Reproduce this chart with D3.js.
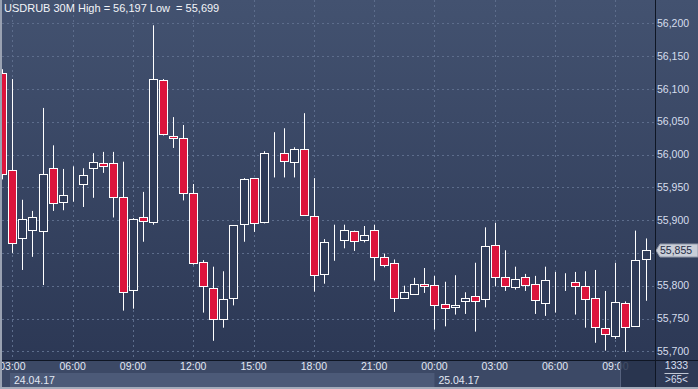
<!DOCTYPE html>
<html>
<head>
<meta charset="utf-8">
<script src="https://cdn.jsdelivr.net/npm/d3@7"></script>
<style>
  body { margin: 0; background: #2e3a56; }
  svg { display: block; font-family: "Liberation Sans", Arial, sans-serif; }
</style>
</head>
<body>
<svg id="chart" width="698" height="389"></svg>
<script>
// 30 minute bars, USDRUB, 24.04.17 02:30 .. 25.04.17 10:30
const symbol = "USDRUB 30M";
const startTime = new Date(2017, 3, 24, 2, 30);
const barMinutes = 30;

const opens = [
  56.124, 55.976, 55.872, 55.885, 55.883, 55.979, 55.927, 55.936, 55.955, 55.980,
  55.987, 55.987, 55.935, 55.794, 55.904, 55.897, 56.113, 56.028, 56.025, 55.941,
  55.836, 55.796, 55.750, 55.781, 55.894, 55.964, 55.897, 56.003, 56.002, 55.988,
  56.009, 55.907, 55.818, 55.869, 55.870, 55.883, 55.869, 55.885, 55.844, 55.834,
  55.782, 55.788, 55.802, 55.801, 55.772, 55.767, 55.776, 55.784, 55.779, 55.862,
  55.814, 55.798, 55.813, 55.802, 55.773, 55.805, 55.802, 55.805, 55.799, 55.781,
  55.735, 55.724, 55.773, 55.739, 55.840
];
const highs = [
  56.130, 56.115, 55.931, 55.914, 56.071, 56.014, 55.978, 55.982, 55.979, 56.002,
  56.004, 56.004, 55.989, 55.903, 55.943, 56.197, 56.115, 56.057, 56.045, 55.955,
  55.839, 55.829, 55.822, 55.892, 55.964, 55.964, 56.005, 56.034, 56.040, 56.011,
  56.063, 55.964, 55.871, 55.893, 55.893, 55.884, 55.891, 55.893, 55.849, 55.840,
  55.800, 55.812, 55.827, 55.815, 55.806, 55.816, 55.790, 55.835, 55.889, 55.896,
  55.854, 55.829, 55.818, 55.815, 55.829, 55.821, 55.819, 55.821, 55.822, 55.824,
  55.792, 55.835, 55.776, 55.884, 55.872
];
const lows = [
  55.962, 55.850, 55.824, 55.844, 55.801, 55.914, 55.915, 55.928, 55.920, 55.934,
  55.972, 55.904, 55.762, 55.765, 55.867, 55.893, 56.029, 56.010, 55.930, 55.832,
  55.759, 55.716, 55.736, 55.770, 55.867, 55.882, 55.895, 55.965, 55.965, 55.965,
  55.907, 55.791, 55.803, 55.838, 55.857, 55.853, 55.866, 55.808, 55.828, 55.760,
  55.780, 55.786, 55.789, 55.733, 55.738, 55.756, 55.757, 55.730, 55.767, 55.799,
  55.792, 55.794, 55.792, 55.757, 55.754, 55.759, 55.792, 55.756, 55.736, 55.713,
  55.701, 55.719, 55.699, 55.739, 55.777
];
const closes = [
  55.970, 55.865, 55.901, 55.904, 55.971, 55.926, 55.938, 55.936, 55.968, 55.988,
  55.983, 55.935, 55.791, 55.901, 55.898, 56.115, 56.031, 56.025, 55.941, 55.834,
  55.799, 55.750, 55.779, 55.892, 55.962, 55.895, 56.002, 56.003, 55.990, 56.008,
  55.908, 55.817, 55.866, 55.869, 55.885, 55.868, 55.878, 55.843, 55.831, 55.782,
  55.790, 55.802, 55.799, 55.770, 55.766, 55.770, 55.782, 55.776, 55.860, 55.814,
  55.799, 55.810, 55.801, 55.778, 55.808, 55.805, 55.802, 55.799, 55.779, 55.737,
  55.726, 55.775, 55.737, 55.839, 55.855
];
const priceRange = [55.700, 56.200];
const tickCount = 1333;

class CandleChart {
  constructor(selector, config) {
    this.svg = d3.select(selector);
    this.config = { ...config };
    this.init();
  }

  init() {
    const { plotLeft, plotRight, plotBottom, width, height } = this.config;
    this.times = opens.map((_, i) => d3.timeMinute.offset(startTime, i * barMinutes));
    this.bars = opens.map((o, i) => ({
      t: this.times[i], o, h: highs[i], l: lows[i], c: closes[i]
    }));

    this.x = d3.scaleTime()
      .domain([this.times[0], this.times[this.times.length - 1]])
      .range([2.3, 645.5]);
    this.y = d3.scaleLinear().domain(priceRange).range([351.3, 23.3]);
    this.fmt = v => d3.format(".3f")(v).replace(".", ",");

    const defs = this.svg.append("defs");
    const grad = defs.append("linearGradient")
      .attr("id", "bg").attr("x1", 0).attr("x2", 0).attr("y1", 0).attr("y2", 1);
    grad.append("stop").attr("offset", "0%").attr("stop-color", "#435270");
    grad.append("stop").attr("offset", "100%").attr("stop-color", "#2c3855");
    defs.append("clipPath").attr("id", "plotClip")
      .append("rect").attr("x", plotLeft).attr("y", 0)
      .attr("width", plotRight - plotLeft).attr("height", plotBottom);
    defs.append("clipPath").attr("id", "axisClip")
      .append("rect").attr("x", plotLeft).attr("y", plotBottom)
      .attr("width", plotRight - plotLeft).attr("height", height - plotBottom);

    this.svg.append("rect")
      .attr("width", width).attr("height", plotBottom)
      .attr("fill", "url(#bg)");

    this.renderGrid();
    this.renderCandles();
    this.renderPriceAxis();
    this.renderTimeAxis();
    this.renderFrame();
  }

  renderGrid() {
    const { plotLeft, plotRight, plotBottom } = this.config;
    const g = this.svg.append("g").attr("clip-path", "url(#plotClip)");
    g.selectAll(".hgrid")
      .data(this.y.ticks(10))
      .enter().append("line")
      .attr("x1", plotLeft).attr("x2", plotRight)
      .attr("y1", d => Math.round(this.y(d)) + 0.5)
      .attr("y2", d => Math.round(this.y(d)) + 0.5)
      .attr("stroke", "#5d6d8c").attr("stroke-dasharray", "2,3");
    g.selectAll(".vgrid")
      .data(this.x.ticks(d3.timeHour.every(3)))
      .enter().append("line")
      .attr("x1", d => Math.round(this.x(d)) + 0.5)
      .attr("x2", d => Math.round(this.x(d)) + 0.5)
      .attr("y1", 0).attr("y2", plotBottom)
      .attr("stroke", "#5d6d8c").attr("stroke-dasharray", "2,3");
  }

  renderCandles() {
    const g = this.svg.append("g").attr("clip-path", "url(#plotClip)");
    const candle = g.selectAll(".candle")
      .data(this.bars)
      .enter().append("g")
      .attr("class", "candle");

    candle.append("line")
      .attr("x1", d => Math.round(this.x(d.t)) + 0.5)
      .attr("x2", d => Math.round(this.x(d.t)) + 0.5)
      .attr("y1", d => this.y(d.h))
      .attr("y2", d => this.y(d.l))
      .attr("stroke", "#ffffff");

    candle.append("rect")
      .attr("x", d => Math.round(this.x(d.t)) - 3.5)
      .attr("y", d => Math.round(this.y(Math.max(d.o, d.c))) + 0.5)
      .attr("width", 8)
      .attr("height", d => Math.max(0, Math.round(this.y(Math.min(d.o, d.c))) - Math.round(this.y(Math.max(d.o, d.c)))))
      .attr("fill", d => d.c < d.o ? "#dc143c" : "#2f3b58")
      .attr("stroke", "#ffffff");
  }

  renderPriceAxis() {
    const { plotRight, plotBottom } = this.config;
    const g = this.svg.append("g");
    const last = closes[closes.length - 1];
    const ly = Math.round(this.y(last)) + 0.5;

    // tick labels hidden under the last price marker are skipped
    g.selectAll(".ptick")
      .data(this.y.ticks(10).filter(d => Math.abs(this.y(d) - ly) > 9))
      .enter().append("text")
      .attr("x", plotRight + 2)
      .attr("y", d => this.y(d))
      .attr("dy", "0.35em")
      .attr("font-size", 10.5)
      .attr("fill", "#d6deed")
      .text(d => this.fmt(d));

    // last price marker
    g.append("path")
      .attr("d", `M${plotRight + 1},${ly} L${plotRight + 5},${ly - 6.5} H698 V${ly + 6.5} H${plotRight + 5} Z`)
      .attr("fill", "#c9ced8").attr("stroke", "#8f97a8");
    g.append("text")
      .attr("x", plotRight + 5).attr("y", ly).attr("dy", "0.36em")
      .attr("font-size", 10.5).attr("fill", "#1f2b45")
      .text(this.fmt(last));

    // corner panel
    const cx = (plotRight + 698) / 2;
    g.append("text")
      .attr("x", cx).attr("y", plotBottom + 9).attr("text-anchor", "middle")
      .attr("font-size", 10.5).attr("fill", "#d6deed").text(tickCount);
    g.append("line")
      .attr("x1", cx - 12).attr("x2", cx + 12)
      .attr("y1", plotBottom + 13.5).attr("y2", plotBottom + 13.5)
      .attr("stroke", "#c0c7d4");
    g.append("text")
      .attr("x", cx).attr("y", plotBottom + 23).attr("text-anchor", "middle")
      .attr("font-size", 10).attr("fill", "#d6deed").text(`>${this.bars.length}<`);
  }

  renderTimeAxis() {
    const { plotLeft, plotRight, plotBottom } = this.config;
    const rowY = plotBottom + 13;
    this.svg.append("rect")
      .attr("x", 0).attr("y", plotBottom).attr("width", plotRight).attr("height", 27)
      .attr("fill", "#3c4966");

    const g = this.svg.append("g").attr("clip-path", "url(#axisClip)");
    const days = d3.timeDay.range(d3.timeDay.floor(this.times[0]), this.times[this.times.length - 1]);
    const dayStart = days.map((d, i) => i === 0 ? 10 : this.x(d));
    const dayEnd = days.map((d, i) => i < days.length - 1 ? this.x(days[i + 1]) : 621);

    g.append("rect")
      .attr("x", dayStart[0]).attr("y", rowY)
      .attr("width", dayEnd[0] - dayStart[0]).attr("height", 14)
      .attr("fill", "#4c5a78");

    g.selectAll(".ttick")
      .data(this.x.ticks(d3.timeHour.every(3)))
      .enter().append("text")
      .attr("x", d => this.x(d)).attr("y", plotBottom + 6.5).attr("dy", "0.35em")
      .attr("text-anchor", "middle")
      .attr("font-size", 10.5).attr("fill", "#e2e8f3")
      .text(d3.timeFormat("%H:%M"));

    g.selectAll(".dlabel")
      .data(days)
      .enter().append("text")
      .attr("x", (d, i) => dayStart[i] + 4).attr("y", rowY + 7).attr("dy", "0.35em")
      .attr("font-size", 10.5).attr("fill", "#e2e8f3")
      .text(d3.timeFormat("%d.%m.%y"));

    // shaded block at the right end of the time strip
    g.append("rect")
      .attr("x", 621).attr("y", plotBottom + 1).attr("width", plotRight - 621).attr("height", 26)
      .attr("fill", "#26314b").attr("fill-opacity", 0.85);
    g.append("line")
      .attr("x1", 620.5).attr("x2", 620.5).attr("y1", plotBottom + 1).attr("y2", plotBottom + 27)
      .attr("stroke", "#56627e");
  }

  renderFrame() {
    const { plotRight, plotBottom, width, height } = this.config;
    this.svg.append("text")
      .attr("x", 4).attr("y", 12)
      .attr("font-size", 11).attr("fill", "#f2f4f8")
      .style("white-space", "pre")
      .text(`${symbol} High = ${this.fmt(d3.max(highs))} Low  = ${this.fmt(d3.min(lows))}`);

    this.svg.append("line")
      .attr("x1", 0).attr("x2", width).attr("y1", plotBottom + 0.5).attr("y2", plotBottom + 0.5)
      .attr("stroke", "#0f1624");
    this.svg.append("line")
      .attr("x1", plotRight + 0.5).attr("x2", plotRight + 0.5).attr("y1", 0).attr("y2", height - 2)
      .attr("stroke", "#0f1624");
    this.svg.append("rect")
      .attr("x", 0).attr("y", 0).attr("width", 2).attr("height", height)
      .attr("fill", "#9aa2b2");
    this.svg.append("rect")
      .attr("x", 0).attr("y", height - 2).attr("width", width).attr("height", 2)
      .attr("fill", "#a3abba");
  }
}

new CandleChart("#chart", {
  width: 698, height: 389,
  plotLeft: 2, plotRight: 655, plotBottom: 360
});
</script>
</body>
</html>
